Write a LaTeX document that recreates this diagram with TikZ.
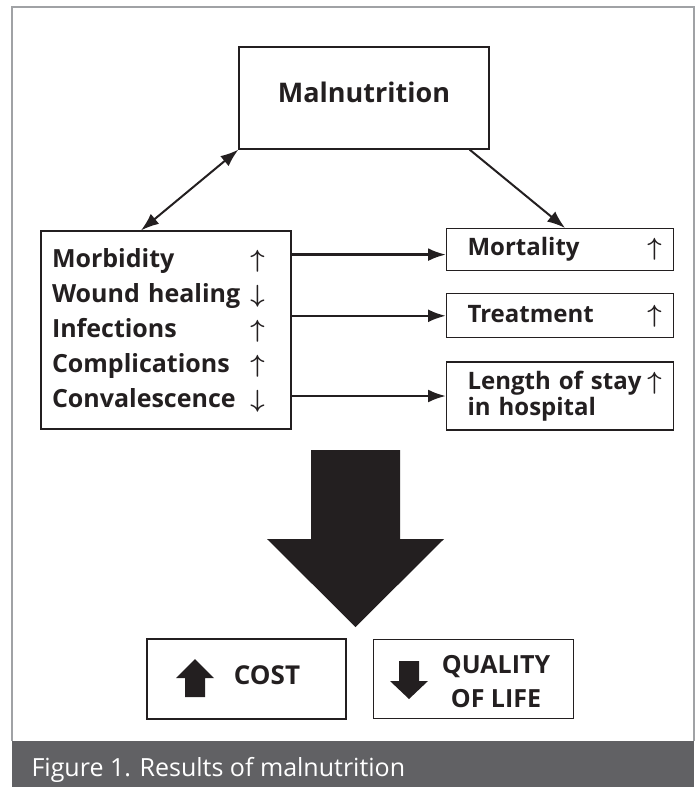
\documentclass[tikz,border=0pt]{standalone}
\usepackage{fontspec}
\setmainfont{Open Sans}
\usetikzlibrary{positioning,arrows.meta}
\definecolor{ink}{HTML}{231F20}
\definecolor{framegray}{HTML}{A0A2A5}
\definecolor{bargray}{HTML}{616164}
\newcommand{\arrup}{{\fontsize{28}{28}\selectfont\boldmath$\uparrow$}}
\newcommand{\arrdown}{{\fontsize{28}{28}\selectfont\boldmath$\downarrow$}}

\begin{document}
\begin{tikzpicture}[x=1pt, y=-1pt, every node/.style={font=\bfseries, text=ink},
  box/.style={draw=ink, line width=1.2pt, inner sep=0pt, minimum width=250pt},
  sidebox/.style={draw=ink, line width=1.2pt, inner xsep=12pt, inner ysep=0pt, text width=203pt, align=left, font=\bfseries\fontsize{24}{26}\selectfont},
  link/.style={draw=ink, line width=2.6pt, -{Latex[length=18pt,width=13pt]}},
  slant/.style={draw=ink, line width=2pt, -{Latex[length=18pt,width=13pt]}}]
\useasboundingbox (0,0) rectangle (698,787);
\draw[framegray, line width=1.5pt] (12,741) -- (12,7) -- (694,7) -- (694,741);
\fill[bargray] (12,741) rectangle (694,787);
\node[anchor=base west, text=white, font=\mdseries\fontsize{25}{30}\selectfont] (caption) at (28,776) {Figure 1. Results of malnutrition};

\node[box, minimum height=102pt, text depth=11pt, font=\bfseries\fontsize{27}{30}\selectfont] (maln) at (364,98) {Malnutrition};
\node[box, minimum height=198pt, inner xsep=11pt, text width=228pt, align=left, font=\bfseries\fontsize{25}{35}\selectfont] (morb) at (166,330) {\begin{tabular}{@{}l@{\hspace{10pt}}c@{}}
Morbidity & \arrup\\
Wound healing & \arrdown\\
Infections & \arrup\\
Complications & \arrup\\
Convalescence & \arrdown
\end{tabular}};
\node[sidebox, minimum height=42pt, anchor=north west] (mort) at (446,228) {\hspace*{9pt}Mortality\hfill\arrup};
\node[sidebox, minimum height=44pt, below=22pt of mort] (treat) {\hspace*{9pt}Treatment\hfill\arrup};
\node[sidebox, minimum height=68pt, below=23pt of treat] (stay) {\hspace*{9pt}Length of stay\hfill\arrup\\\hspace*{9pt}in hospital};

\draw[slant, {Latex[length=18pt,width=13pt]}-{Latex[length=18pt,width=13pt]}] (maln.south west) -- ([xshift=-25pt]morb.north);
\draw[slant] ([xshift=-20pt]maln.south east) -- ([xshift=5pt]mort.north);
\draw[link, transform canvas={yshift=-5pt}] (morb.east |- mort.west) -- (mort.west);
\draw[link] (morb.east |- treat.west) -- (treat.west);
\draw[link] (morb.east |- stay.west) -- (stay.west);

% big arrow down to the results
\fill[ink] (311,450) -- (400,450) -- (400,539) -- (444,539) -- (355.5,627) -- (267,539) -- (311,539) -- cycle;

\node[box, minimum width=199pt, minimum height=80pt] (cost) at (246.5,679) {};
\node[box, minimum width=200pt, minimum height=79pt, right=26pt of cost] (qual) {};
\fill[ink] (185,697) -- (185,678) -- (176,678) -- (195,659) -- (214,678) -- (205,678) -- (205,697) -- cycle;
\fill[ink] (399,661) -- (419,661) -- (419,681) -- (428,681) -- (409,699) -- (390,681) -- (399,681) -- cycle;
\node[font=\bfseries\fontsize{26}{30}\selectfont] (costlbl) at (267,675.5) {COST};
\node[align=center, font=\bfseries\fontsize{25}{34}\selectfont] (quallbl) at (496,682) {QUALITY\\OF LIFE};
\end{tikzpicture}
\end{document}
